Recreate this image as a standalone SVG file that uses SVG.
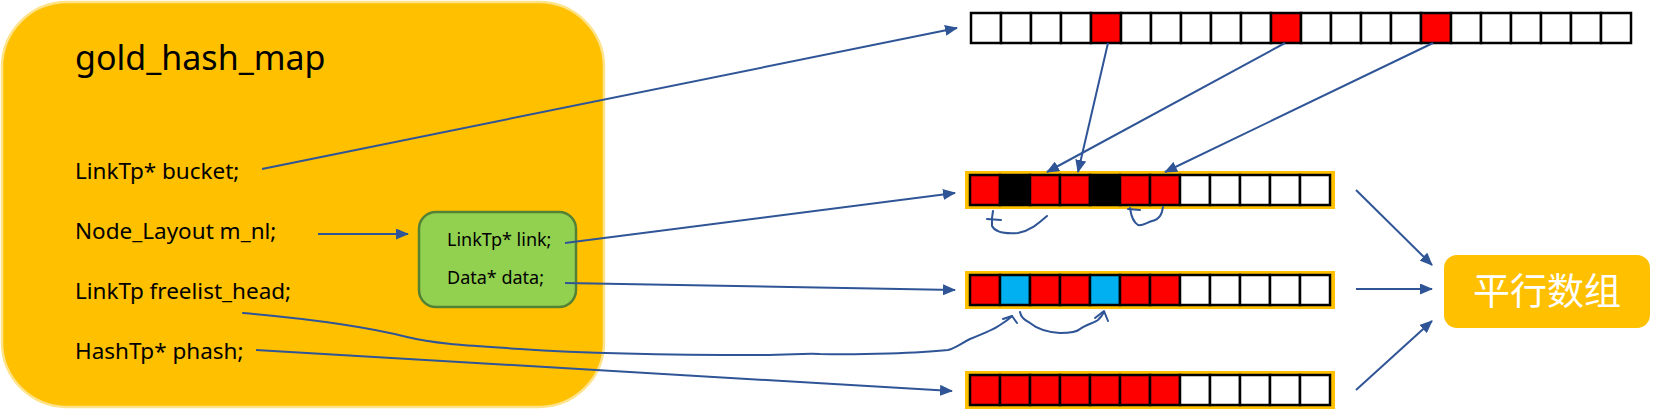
<svg xmlns="http://www.w3.org/2000/svg" width="1661" height="410" viewBox="0 0 1661 410">
<defs>
<style>
.t{font-family:"Noto Sans","Liberation Sans",sans-serif;fill:#000}
.c{fill:#fff;stroke:#000;stroke-width:2.5}
.r{fill:#FF0000;stroke:#000;stroke-width:2.5}
.k{fill:#000;stroke:#000;stroke-width:2.5}
.b{fill:#00B0F0;stroke:#000;stroke-width:2.5}
.y{fill:#FFC000}
.ln{fill:none;stroke:#2F5597;stroke-width:2}
.hw{fill:none;stroke:#2F5597;stroke-width:2;stroke-linecap:round;stroke-linejoin:round}
.a{marker-end:url(#arr)}
</style>
<marker id="arr" markerUnits="userSpaceOnUse" markerWidth="13" markerHeight="11" viewBox="0 0 13 11" refX="12" refY="5.5" orient="auto">
<path d="M0,0 L13,5.5 L0,11 z" fill="#2F5597"/>
</marker>
</defs>

<g id="gold_hash_map">
<rect x="2" y="2" width="602" height="405" rx="65" ry="65" fill="#FFC000" stroke="#FFE38A" stroke-width="2.5"/>
<text class="t" x="75" y="70" font-size="34">gold_hash_map</text>
<text class="t" x="75" y="179" font-size="22.5">LinkTp* bucket;</text>
<text class="t" x="75" y="239" font-size="22.5">Node_Layout m_nl;</text>
<text class="t" x="75" y="299" font-size="22.5">LinkTp freelist_head;</text>
<text class="t" x="75" y="359" font-size="22.5">HashTp* phash;</text>
</g>

<g id="node_layout">
<rect x="419" y="212" width="157" height="95" rx="17" ry="17" fill="#92D050" stroke="#548235" stroke-width="2.5"/>
<text class="t" x="447" y="246" font-size="18">LinkTp* link;</text>
<text class="t" x="447" y="284" font-size="18">Data* data;</text>
</g>

<g id="bucket_array">
<rect class="c" x="971" y="13" width="30" height="30"/>
<rect class="c" x="1001" y="13" width="30" height="30"/>
<rect class="c" x="1031" y="13" width="30" height="30"/>
<rect class="c" x="1061" y="13" width="30" height="30"/>
<rect class="r" x="1091" y="13" width="30" height="30"/>
<rect class="c" x="1121" y="13" width="30" height="30"/>
<rect class="c" x="1151" y="13" width="30" height="30"/>
<rect class="c" x="1181" y="13" width="30" height="30"/>
<rect class="c" x="1211" y="13" width="30" height="30"/>
<rect class="c" x="1241" y="13" width="30" height="30"/>
<rect class="r" x="1271" y="13" width="30" height="30"/>
<rect class="c" x="1301" y="13" width="30" height="30"/>
<rect class="c" x="1331" y="13" width="30" height="30"/>
<rect class="c" x="1361" y="13" width="30" height="30"/>
<rect class="c" x="1391" y="13" width="30" height="30"/>
<rect class="r" x="1421" y="13" width="30" height="30"/>
<rect class="c" x="1451" y="13" width="30" height="30"/>
<rect class="c" x="1481" y="13" width="30" height="30"/>
<rect class="c" x="1511" y="13" width="30" height="30"/>
<rect class="c" x="1541" y="13" width="30" height="30"/>
<rect class="c" x="1571" y="13" width="30" height="30"/>
<rect class="c" x="1601" y="13" width="30" height="30"/>
</g>

<g id="link_array">
<rect class="y" x="965" y="171" width="370" height="38"/>
<rect class="r" x="970" y="175" width="30" height="30"/>
<rect class="k" x="1000" y="175" width="30" height="30"/>
<rect class="r" x="1030" y="175" width="30" height="30"/>
<rect class="r" x="1060" y="175" width="30" height="30"/>
<rect class="k" x="1090" y="175" width="30" height="30"/>
<rect class="r" x="1120" y="175" width="30" height="30"/>
<rect class="r" x="1150" y="175" width="30" height="30"/>
<rect class="c" x="1180" y="175" width="30" height="30"/>
<rect class="c" x="1210" y="175" width="30" height="30"/>
<rect class="c" x="1240" y="175" width="30" height="30"/>
<rect class="c" x="1270" y="175" width="30" height="30"/>
<rect class="c" x="1300" y="175" width="30" height="30"/>
</g>

<g id="data_array">
<rect class="y" x="965" y="271" width="370" height="38"/>
<rect class="r" x="970" y="275" width="30" height="30"/>
<rect class="b" x="1000" y="275" width="30" height="30"/>
<rect class="r" x="1030" y="275" width="30" height="30"/>
<rect class="r" x="1060" y="275" width="30" height="30"/>
<rect class="b" x="1090" y="275" width="30" height="30"/>
<rect class="r" x="1120" y="275" width="30" height="30"/>
<rect class="r" x="1150" y="275" width="30" height="30"/>
<rect class="c" x="1180" y="275" width="30" height="30"/>
<rect class="c" x="1210" y="275" width="30" height="30"/>
<rect class="c" x="1240" y="275" width="30" height="30"/>
<rect class="c" x="1270" y="275" width="30" height="30"/>
<rect class="c" x="1300" y="275" width="30" height="30"/>
</g>

<g id="hash_array">
<rect class="y" x="965" y="371" width="370" height="38"/>
<rect class="r" x="970" y="375" width="30" height="30"/>
<rect class="r" x="1000" y="375" width="30" height="30"/>
<rect class="r" x="1030" y="375" width="30" height="30"/>
<rect class="r" x="1060" y="375" width="30" height="30"/>
<rect class="r" x="1090" y="375" width="30" height="30"/>
<rect class="r" x="1120" y="375" width="30" height="30"/>
<rect class="r" x="1150" y="375" width="30" height="30"/>
<rect class="c" x="1180" y="375" width="30" height="30"/>
<rect class="c" x="1210" y="375" width="30" height="30"/>
<rect class="c" x="1240" y="375" width="30" height="30"/>
<rect class="c" x="1270" y="375" width="30" height="30"/>
<rect class="c" x="1300" y="375" width="30" height="30"/>
</g>

<g id="parallel_arrays">
<rect x="1444" y="255" width="206" height="73" rx="13" ry="13" fill="#FFC000"/>
<text x="1547" y="305" font-size="37" text-anchor="middle" fill="#fff" font-family="'Noto Sans CJK SC','Noto Sans',sans-serif">平行数组</text>
</g>

<g id="connectors">
<line class="ln a" x1="262" y1="169" x2="957" y2="28"/>
<line class="ln a" x1="318" y1="234" x2="408" y2="234"/>
<line class="ln a" x1="565" y1="243" x2="955" y2="193"/>
<line class="ln a" x1="565" y1="283" x2="955" y2="290"/>
<line class="ln a" x1="256" y1="350" x2="952" y2="391"/>
<line class="ln a" x1="1108" y1="43" x2="1078" y2="172"/>
<line class="ln a" x1="1285" y1="43" x2="1047" y2="172"/>
<line class="ln a" x1="1433" y1="43" x2="1165" y2="172"/>
<line class="ln a" x1="1356" y1="190" x2="1432" y2="265"/>
<line class="ln a" x1="1356" y1="289" x2="1432" y2="289"/>
<line class="ln a" x1="1356" y1="390" x2="1432" y2="321"/>
<path class="hw" d="M243,313 C300,318 360,325 407,337 C440,345 480,346 520,349 C580,353 680,355 760,355 C790,355 805,353 820,354 C860,355 920,353 948,350 C956,348 960,344 970,339 C985,333 995,329 1000,325 C1005,322 1009,319 1012,316"/>
<path class="hw" d="M1003,319 L1012,316 L1017,323"/>
<path class="hw" d="M1020,312 C1021,318 1025,320 1030,323 C1036,328 1045,332 1060,333 C1070,333 1077,332 1080,329 C1085,325 1094,323 1098,320 C1101,317 1103,314 1104,312"/>
<path class="hw" d="M1095,318 L1104,311 L1108,321"/>
<path class="hw" d="M1047,216 C1040,222 1032,230 1018,233 C1005,234 995,232 992,226 L992,218 L993,211"/>
<path class="hw" d="M987,219 L1001,220"/>
<path class="hw" d="M1163,207 C1162,214 1160,219 1152,221 C1146,223 1142,226 1138,225 C1133,222 1131,215 1130,208"/>
<path class="hw" d="M1128,209 L1140,210"/>
</g>
</svg>
